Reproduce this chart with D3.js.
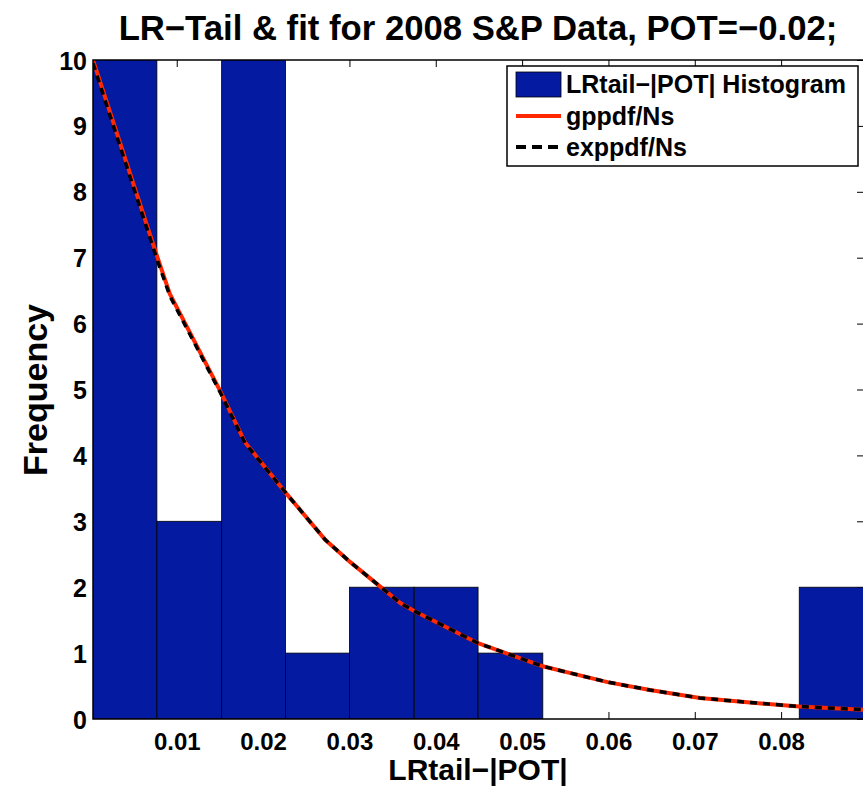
<!DOCTYPE html>
<script src='https://cdnjs.cloudflare.com/ajax/libs/d3/7.8.5/d3.min.js'></script>
<style>
   body { margin: 0; background: white; }
   text { font-family: "Liberation Sans", Arial, sans-serif; font-weight: bold; }
   .bar { fill: rgb(4,26,160); stroke: black; stroke-width: 0.8; }
   .line_gp { fill: none; stroke: rgb(255,40,0); stroke-width: 4; }
   .line_exp { fill: none; stroke: black; stroke-width: 3.5; stroke-dasharray: 7,6; }
</style>
<html>
   <body onload='main()'>
      <svg class="chart" width=863 height=786></svg>
   </body>
   <script>
      // histogram bins (edges) and counts
      var binEdges = [0.0003, 0.0077, 0.0152, 0.0226, 0.0300, 0.0375, 0.0449, 0.0524, 0.0598, 0.0672, 0.0747, 0.0821, 0.0896];
      var counts = [12, 3, 11, 1, 2, 2, 1, 0, 0, 0, 0, 2];
      // fitted pdf curves scaled by Ns
      var fitX   = [0.0003, 0.0077, 0.0092, 0.0151, 0.0179, 0.0227, 0.0272, 0.0301, 0.0359, 0.0375, 0.0449, 0.0524, 0.0555, 0.0599, 0.0648, 0.0706, 0.0764, 0.0821, 0.0896];
      var gpY    = [10.0, 7.03, 6.45, 4.96, 4.20, 3.42, 2.72, 2.38, 1.76, 1.64, 1.15, 0.80, 0.70, 0.56, 0.44, 0.32, 0.25, 0.19, 0.14];
      var expY   = [9.95, 6.98, 6.42, 4.94, 4.19, 3.42, 2.72, 2.38, 1.76, 1.64, 1.15, 0.80, 0.70, 0.56, 0.44, 0.32, 0.25, 0.19, 0.14];
      var xTicks = [0.01, 0.02, 0.03, 0.04, 0.05, 0.06, 0.07, 0.08];
      var yTicks = [0, 1, 2, 3, 4, 5, 6, 7, 8, 9, 10];

      var margin = {top: 60, left: 93, right: 864, bottom: 719};
      var x = d3.scaleLinear().domain([0.0003, 0.0896]).range([margin.left, margin.right]);
      var y = d3.scaleLinear().domain([0, 10]).range([margin.bottom, margin.top]);

      function main() {
        var svg = d3.select(".chart");
        svg.append("defs").append("clipPath").attr("id", "plotclip")
          .append("rect")
          .attr("x", margin.left).attr("y", margin.top)
          .attr("width", margin.right - margin.left).attr("height", margin.bottom - margin.top);

        // ticks (drawn first so bars cover them, like matlab)
        svg.append("g")
          .attr("transform", "translate(0," + margin.bottom + ")")
          .call(d3.axisBottom(x).tickValues(xTicks).tickSizeInner(-7).tickSizeOuter(0).tickFormat(""))
          .call(g => g.select(".domain").remove());
        svg.append("g")
          .attr("transform", "translate(0," + margin.top + ")")
          .call(d3.axisTop(x).tickValues(xTicks).tickSizeInner(-7).tickSizeOuter(0).tickFormat(""))
          .call(g => g.select(".domain").remove());
        svg.append("g")
          .attr("transform", "translate(" + margin.right + ",0)")
          .call(d3.axisRight(y).tickValues(yTicks).tickSizeInner(-7).tickSizeOuter(0).tickFormat(""))
          .call(g => g.select(".domain").remove());

        var plot = svg.append("g").attr("clip-path", "url(#plotclip)");
        plot.selectAll(".bar")
          .data(counts)
          .enter().append("rect")
          .attr("class", "bar")
          .attr("x", function(d, i) { return x(binEdges[i]); })
          .attr("width", function(d, i) { return x(binEdges[i + 1]) - x(binEdges[i]); })
          .attr("y", function(d) { return y(d); })
          .attr("height", function(d) { return y(0) - y(d); })
          .style("display", function(d) { return d > 0 ? null : "none"; });

        var line_gp = d3.line()
          .x(function(d, i) { return x(fitX[i]); })
          .y(function(d) { return y(d); });
        plot.append("path").datum(gpY).attr("class", "line_gp").attr("d", line_gp);
        plot.append("path").datum(expY).attr("class", "line_exp").attr("d", line_gp);

        // axis lines box
        svg.append("rect")
          .attr("x", margin.left).attr("y", margin.top)
          .attr("width", margin.right - margin.left).attr("height", margin.bottom - margin.top)
          .attr("fill", "none").attr("stroke", "black").attr("stroke-width", 1.5);

        // tick labels
        var yl = svg.append("g")
          .attr("transform", "translate(" + margin.left + ",0)")
          .call(d3.axisLeft(y).tickValues(yTicks).tickSize(0).tickPadding(6));
        yl.select(".domain").remove();
        yl.selectAll("text").style("font-size", "25px").attr("fill", "black").attr("dy", "0.36em");

        var xl = svg.append("g")
          .attr("transform", "translate(0," + margin.bottom + ")")
          .call(d3.axisBottom(x).tickValues(xTicks).tickSize(0).tickPadding(14));
        xl.select(".domain").remove();
        xl.selectAll("text").style("font-size", "24px").attr("fill", "black");

        svg.append("text").text("LR\u2212Tail & fit for 2008 S&P Data, POT=\u22120.02;")
          .attr("x", 478).attr("y", 40)
          .attr("text-anchor", "middle")
          .style("font-size", "34.7px");
        svg.append("text").text("LRtail\u2212|POT|")
          .attr("x", 478).attr("y", 780)
          .attr("text-anchor", "middle")
          .style("font-size", "30px");
        svg.append("text").text("Frequency")
          .attr("transform", "translate(47,390) rotate(-90)")
          .attr("text-anchor", "middle")
          .style("font-size", "34px");

        // legend
        var lg = svg.append("g");
        lg.append("rect")
          .attr("x", 507).attr("y", 66).attr("width", 351).attr("height", 100)
          .attr("fill", "white").attr("stroke", "black").attr("stroke-width", 1.5);
        lg.append("rect").attr("class", "bar")
          .attr("x", 516).attr("y", 72).attr("width", 45).attr("height", 25);
        lg.append("line")
          .attr("x1", 516).attr("x2", 561).attr("y1", 116).attr("y2", 116)
          .attr("stroke", "rgb(255,40,0)").attr("stroke-width", 4);
        lg.append("line")
          .attr("x1", 516).attr("x2", 561).attr("y1", 147).attr("y2", 147)
          .attr("stroke", "black").attr("stroke-width", 4).attr("stroke-dasharray", "10,6");
        var labels = ["LRtail\u2212|POT| Histogram", "gppdf/Ns", "exppdf/Ns"];
        lg.selectAll(".lgtext")
          .data(labels)
          .enter().append("text")
          .attr("class", "lgtext")
          .attr("x", 566)
          .attr("y", function(d, i) { return 93 + i * 31.5; })
          .style("font-size", "25px")
          .text(function(d) { return d; });
      }
   </script>
</html>
